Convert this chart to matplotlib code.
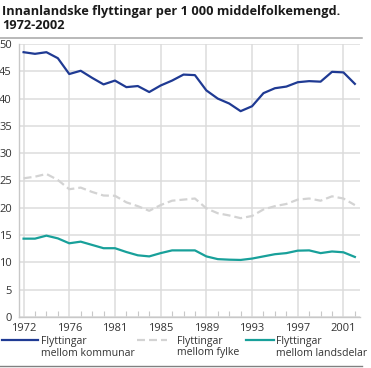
import matplotlib
matplotlib.use("Agg")
import matplotlib.pyplot as plt
from matplotlib.lines import Line2D
import numpy as np

plt.rcParams['font.family'] = ['Open Sans', 'DejaVu Sans']

title = "Innanlandske flyttingar per 1 000 middelfolkemengd.\n1972-2002"

years = ["1972", "1973", "1974", "1975", "1976", "1977", "1978", "1979",
         "1981", "1982", "1983", "1984", "1985", "1986", "1987", "1988",
         "1989", "1990", "1991", "1992", "1993", "1994", "1995", "1996",
         "1997", "1998", "1999", "2000", "2001", "2002"]

kommunar = [48.5, 48.2, 48.5, 47.4, 44.5, 45.1, 43.8, 42.6, 43.3, 42.1,
            42.3, 41.2, 42.4, 43.3, 44.4, 44.3, 41.5, 40.0, 39.1, 37.7,
            38.6, 41.0, 41.9, 42.2, 43.0, 43.2, 43.1, 44.9, 44.8, 42.7]

fylke = [25.4, 25.7, 26.2, 25.1, 23.4, 23.7, 22.9, 22.25, 22.2, 21.0,
         20.3, 19.45, 20.5, 21.3, 21.5, 21.7, 19.9, 19.0, 18.6, 18.1,
         18.5, 19.7, 20.3, 20.7, 21.5, 21.7, 21.3, 22.1, 21.7, 20.5]

landsdelar = [14.35, 14.35, 14.9, 14.4, 13.5, 13.8, 13.2, 12.6, 12.6, 11.9,
              11.3, 11.1, 11.7, 12.2, 12.2, 12.2, 11.1, 10.6, 10.5, 10.45,
              10.7, 11.1, 11.5, 11.7, 12.15, 12.2, 11.7, 12.0, 11.85, 11.0]

series_labels = ["Flyttingar", "Flyttingar", "Flyttingar"]
series_sub = ["mellom kommunar", "mellom fylke", "mellom landsdelar"]
yticks = [0, 5, 10, 15, 20, 25, 30, 35, 40, 45, 50]

W, H = 371, 368
fig = plt.figure(figsize=(W / 100, H / 100), dpi=100)
ax = fig.add_axes([19 / W, (H - 317) / H, (360 - 19) / W, (317 - 44) / H])

x = np.arange(len(years))
blue = "#1f3a93"
grey = "#d3d3d3"
teal = "#18a09a"
l1, = ax.plot(x, kommunar, color=blue, lw=1.6, zorder=3)
l2, = ax.plot(x, fylke, color=grey, lw=1.6, dashes=(3.6, 1.8), zorder=3)
l3, = ax.plot(x, landsdelar, color=teal, lw=1.6, zorder=3)

ax.set_ylim(0, 50)
ax.set_xlim(-0.4, len(years) - 0.55)
ax.set_yticks(yticks)
ax.set_yticklabels([str(v) for v in yticks])
major = list(range(0, len(years), 4))
ax.set_xticks(major)
ax.set_xticklabels([years[i] for i in major])
ax.set_xticks(x, minor=True)

ax.tick_params(axis='y', length=0, pad=5, labelsize=8, labelcolor="#333333")
ax.tick_params(axis='x', which='major', length=0, pad=4.5, labelsize=8, labelcolor="#333333")
ax.tick_params(axis='x', which='minor', direction='in', length=4.5, width=0.8, color="#c8c8c8")

ax.grid(True, axis='both', which='major', color="#dcdcdc", lw=1.1, zorder=0)
ax.set_axisbelow(True)
for s in ['top', 'right']:
    ax.spines[s].set_visible(False)
for s in ['left', 'bottom']:
    ax.spines[s].set_color("#c8c8c8")
    ax.spines[s].set_linewidth(1.0)

fig.text(2 / W, 1 - 5 / H, title, ha='left', va='top', fontsize=9.2,
         fontweight='bold', color="#1a1a1a", linespacing=1.1)

fig.add_artist(Line2D([0, 362 / W], [1 - 37.5 / H, 1 - 37.5 / H], color="#a6a6a6", lw=1.1))
fig.add_artist(Line2D([0, 362 / W], [1 - 366 / H, 1 - 366 / H], color="#808080", lw=1.0))

lfs = 7.6
fs_px = lfs * 100 / 72
entries = [(l1, 2, 36, 41), (l2, 137, 30, 177), (l3, 246, 28, 276)]
legs = []
for (h, x0, hl, tx), lab in zip(entries, series_labels):
    leg = fig.legend(handles=[h], labels=[lab], loc='upper left',
                     bbox_to_anchor=(x0 / W, 1 - 336 / H), frameon=False,
                     borderpad=0, borderaxespad=0, fontsize=lfs,
                     handlelength=hl / fs_px,
                     handletextpad=(tx - x0 - hl) / fs_px)
    for t in leg.get_texts():
        t.set_color("#333333")
    legs.append(leg)

fig.canvas.draw()
for leg, sub in zip(legs, series_sub):
    bb = leg.get_texts()[0].get_window_extent()
    fig.text(bb.x0 / W, (bb.y0 - 0.5) / H, sub, ha='left', va='top', fontsize=lfs,
             color="#333333")

fig.savefig("out.png", dpi=100)
